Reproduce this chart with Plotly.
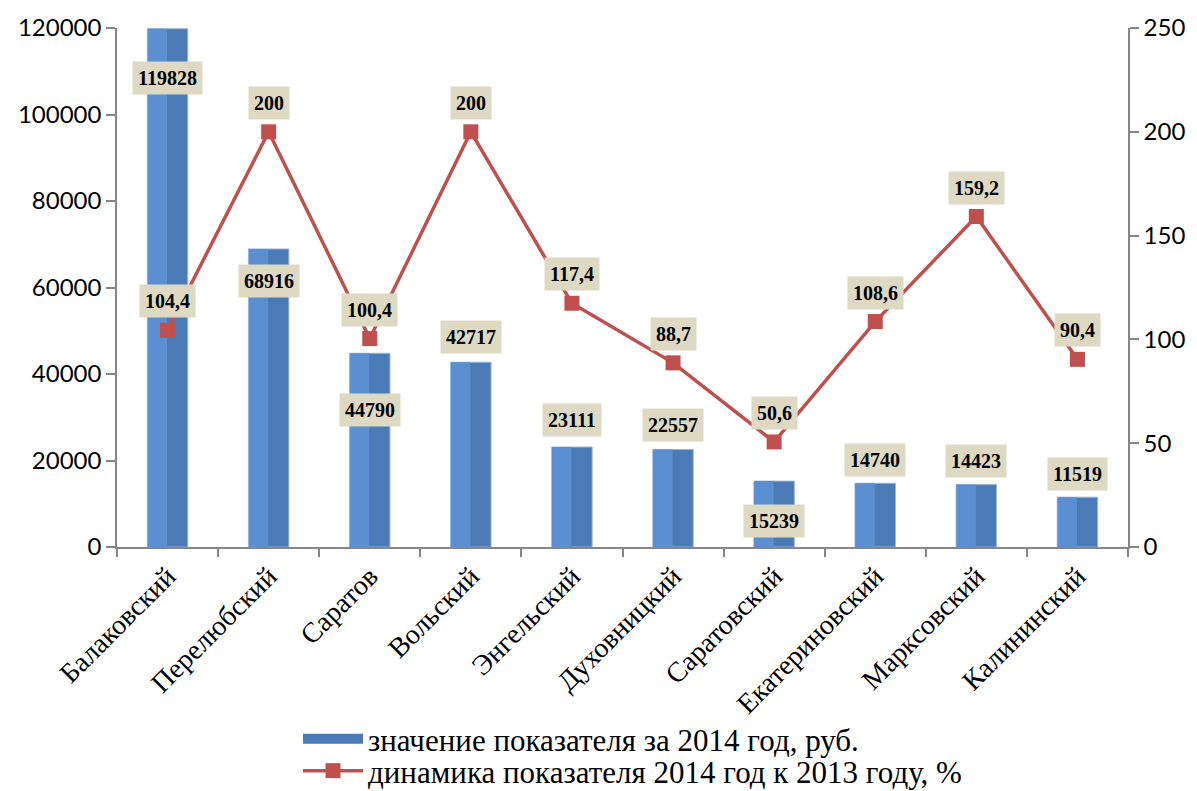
import plotly.graph_objects as go

categories = ["Балаковский", "Перелюбский", "Саратов", "Вольский", "Энгельский",
              "Духовницкий", "Саратовский", "Екатериновский", "Марксовский", "Калининский"]
values_2014 = [119828, 68916, 44790, 42717, 23111, 22557, 15239, 14740, 14423, 11519]
dynamics_pct = [104.4, 200, 100.4, 200, 117.4, 88.7, 50.6, 108.6, 159.2, 90.4]
dynamics_labels = ["104,4", "200", "100,4", "200", "117,4", "88,7", "50,6", "108,6", "159,2", "90,4"]
# pixel shift of each bar label relative to its bar top (negative = inside the bar)
bar_label_shift = [-49, -32, -57, 25, 27, 24, -40, 23, 24, 23]

bar_name = "значение показателя за 2014 год, руб."
line_name = "динамика показателя 2014 год к 2013 году, %"

bar_color = "#4A7BB7"
fig = go.Figure()
fig.add_trace(go.Bar(
    x=categories, y=values_2014, name=bar_name,
    marker=dict(color=bar_color, line=dict(color="#9DB7DA", width=1)),
    width=0.4, offset=-0.2, yaxis="y", showlegend=False,
))
fig.add_trace(go.Bar(
    x=categories, y=values_2014, name="hl",
    marker=dict(color="#5B8FD1", line=dict(width=0)),
    width=0.19, offset=-0.195, yaxis="y", showlegend=False, hoverinfo="skip",
))
# legend entry for the bars (wide blue rectangle)
fig.add_trace(go.Scatter(
    x=[None], y=[None], name=bar_name, mode="lines",
    line=dict(color=bar_color, width=12), showlegend=True, legend="legend",
))
fig.add_trace(go.Scatter(
    x=categories, y=dynamics_pct, name=line_name, yaxis="y2",
    mode="lines+markers", legend="legend2",
    line=dict(color="#C0504D", width=3.5),
    marker=dict(symbol="square", size=15, color="#C0504D"),
))

label_font = dict(family="Liberation Serif", size=20, color="black")
annotations = []
for c, v, s in zip(categories, values_2014, bar_label_shift):
    annotations.append(dict(
        x=c, y=v, xref="x", yref="y", text=f"<b>{v}</b>", showarrow=False,
        yshift=s, bgcolor="#DDD9C3", borderpad=5, font=label_font,
    ))
for c, v, t in zip(categories, dynamics_pct, dynamics_labels):
    annotations.append(dict(
        x=c, y=v, xref="x", yref="y2", text=f"<b>{t}</b>", showarrow=False,
        yshift=29, bgcolor="#DDD9C3", borderpad=5, font=label_font,
    ))

axis_color = "#868686"
num_font = dict(family="Lato", size=24, color="black")
W, H = 1189, 783  # page has 8px body margin
legend_common = dict(
    orientation="v", xref="container", yref="container",
    xanchor="left", yanchor="middle",
    font=dict(family="Liberation Serif", size=31, color="black"),
    bgcolor="rgba(0,0,0,0)", itemwidth=60,
)
fig.update_layout(
    width=W, height=H,
    margin=dict(l=109, r=69, t=20, b=244, autoexpand=False),
    plot_bgcolor="white", paper_bgcolor="white",
    barmode="overlay",
    xaxis=dict(
        type="category", showline=True, linecolor=axis_color, linewidth=1.5,
        ticks="outside", tickson="boundaries", ticklen=8, tickcolor=axis_color,
        tickwidth=1.5, tickangle=-45, automargin=False,
        tickfont=dict(family="Liberation Serif", size=28, color="black"),
        showgrid=False, range=[-0.5, 9.5],
    ),
    yaxis=dict(
        range=[0, 120000], tickvals=[0, 20000, 40000, 60000, 80000, 100000, 120000],
        tickformat="d", automargin=False,
        showline=True, linecolor=axis_color, linewidth=1.5, ticks="outside",
        ticklen=9, tickcolor=axis_color, tickwidth=1.5, showgrid=False,
        tickfont=num_font, zeroline=False,
    ),
    yaxis2=dict(
        range=[0, 250], tickvals=[0, 50, 100, 150, 200, 250], overlaying="y",
        side="right", showline=True, linecolor=axis_color, linewidth=1.5,
        ticks="outside", ticklen=9, tickcolor=axis_color, tickwidth=1.5,
        showgrid=False, zeroline=False, automargin=False,
        tickfont=num_font,
    ),
    legend=dict(legend_common, x=290 / W, y=1 - 731 / H),
    legend2=dict(legend_common, x=290 / W, y=1 - 763 / H),
    annotations=annotations,
)

fig.write_html("out.html")
